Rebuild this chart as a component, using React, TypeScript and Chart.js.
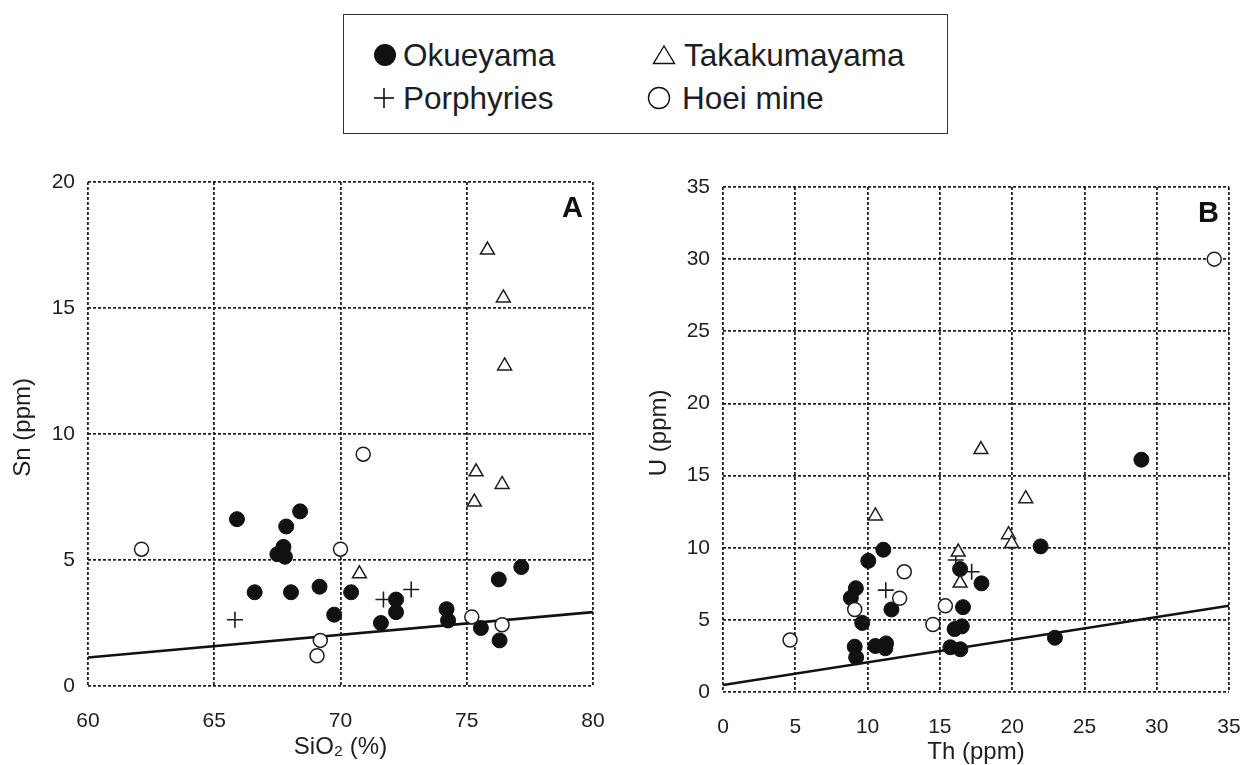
import React, { useEffect, useRef } from "react";
import { Chart, registerables } from "chart.js";

Chart.register(...registerables);

// ---------- Panel A: SiO2 (%) vs Sn (ppm) ----------
const siO2Okueyama = [65.9, 68.4, 67.85, 67.74, 67.5, 67.8, 66.6, 68.04, 69.17, 70.42, 69.75, 72.2, 72.2, 71.6, 74.2, 74.26, 75.56, 76.3, 76.27, 77.16];
const snOkueyama = [6.62, 6.93, 6.33, 5.52, 5.23, 5.13, 3.72, 3.72, 3.94, 3.72, 2.83, 3.43, 2.93, 2.5, 3.05, 2.6, 2.3, 1.81, 4.23, 4.72];
const siO2Takakumayama = [75.82, 76.45, 76.5, 75.37, 76.4, 75.3, 70.75];
const snTakakumayama = [17.3, 15.4, 12.7, 8.5, 8.0, 7.3, 4.45];
const siO2Porphyries = [65.82, 71.7, 72.8];
const snPorphyries = [2.63, 3.43, 3.83];
const siO2Hoei = [62.12, 70.9, 70.0, 75.2, 76.4, 69.2, 69.07];
const snHoei = [5.43, 9.2, 5.43, 2.74, 2.43, 1.81, 1.2];
const siO2Line = [60, 80];
const snLine = [1.13, 2.93];
const ticksA_x = [60, 65, 70, 75, 80];
const ticksA_y = [0, 5, 10, 15, 20];

// ---------- Panel B: Th (ppm) vs U (ppm) ----------
const thOkueyama = [28.94, 21.97, 11.09, 10.05, 16.4, 17.88, 9.19, 8.84, 11.65, 16.6, 9.63, 16.02, 16.52, 22.96, 9.11, 9.21, 10.54, 11.28, 11.23, 15.73, 16.42];
const uOkueyama = [16.1, 10.09, 9.86, 9.09, 8.52, 7.53, 7.19, 6.52, 5.72, 5.88, 4.79, 4.36, 4.55, 3.76, 3.14, 2.4, 3.19, 3.37, 3.03, 3.1, 2.96];
const thTakakumayama = [17.84, 20.94, 10.54, 19.75, 19.97, 16.27, 16.4];
const uTakakumayama = [16.8, 13.4, 12.2, 10.9, 10.3, 9.7, 7.55];
const thPorphyries = [16.1, 17.2, 11.26];
const uPorphyries = [9.15, 8.33, 7.06];
const thHoei = [33.98, 12.54, 12.22, 9.11, 15.38, 14.52, 4.64];
const uHoei = [30.0, 8.33, 6.5, 5.72, 5.97, 4.68, 3.6];
const thLine = [0, 35];
const uLine = [0.48, 5.98];
const ticksB_x = [0, 5, 10, 15, 20, 25, 30, 35];
const ticksB_y = [0, 5, 10, 15, 20, 25, 30, 35];

const legendLabels = ["Okueyama", "Takakumayama", "Porphyries", "Hoei mine"];

const FONT = '"Liberation Sans", Arial, Helvetica, sans-serif';
const INK = "#1e1e1e";

const zip = (xs: number[], ys: number[]) => xs.map((x, i) => ({ x, y: ys[i] }));

function makeDatasets(
  okX: number[], okY: number[],
  tkX: number[], tkY: number[],
  poX: number[], poY: number[],
  hoX: number[], hoY: number[],
  lnX: number[], lnY: number[]
) {
  return [
    {
      label: legendLabels[3],
      data: zip(hoX, hoY),
      pointStyle: "circle",
      pointRadius: 7,
      backgroundColor: "#ffffff",
      borderColor: INK,
      borderWidth: 1.5,
    },
    {
      label: legendLabels[1],
      data: zip(tkX, tkY),
      pointStyle: "triangle",
      pointRadius: 8,
      backgroundColor: "#ffffff",
      borderColor: INK,
      borderWidth: 1.5,
    },
    {
      label: legendLabels[2],
      data: zip(poX, poY),
      pointStyle: "cross",
      pointRadius: 8,
      backgroundColor: INK,
      borderColor: INK,
      borderWidth: 1.6,
    },
    {
      label: legendLabels[0],
      data: zip(okX, okY),
      pointStyle: "circle",
      pointRadius: 7.5,
      backgroundColor: "#111111",
      borderColor: "#111111",
      borderWidth: 1,
    },
    {
      label: "line",
      data: zip(lnX, lnY),
      showLine: true,
      pointRadius: 0,
      borderColor: "#111111",
      borderWidth: 2.6,
      fill: false,
      order: 10,
    },
  ];
}

const panelLabelPlugin = {
  id: "panelLabel",
  afterDraw(chart: any, _args: any, opts: any) {
    const { ctx, chartArea } = chart;
    ctx.save();
    ctx.font = `bold 29px ${FONT}`;
    ctx.fillStyle = "#111";
    ctx.textAlign = "right";
    ctx.textBaseline = "alphabetic";
    ctx.fillText(opts.text, chartArea.right - opts.dx, chartArea.top + opts.dy);
    ctx.restore();
  },
};

type PanelProps = {
  left: number;
  top: number;
  width: number;
  height: number;
  datasets: any[];
  xTicks: number[];
  yTicks: number[];
  xTitle: string;
  yTitle: string;
  yAxisWidth: number;
  xAxisHeight: number;
  padTop: number;
  padRight: number;
  yTitlePad: number;
  xTitlePad: number;
  label: string;
};

function Panel(p: PanelProps) {
  const ref = useRef<HTMLCanvasElement | null>(null);
  useEffect(() => {
    if (!ref.current) return;
    const grid = {
      display: true,
      color: "#222",
      lineWidth: 1.8,
      drawTicks: false,
      drawOnChartArea: true,
    };
    const border = { display: false, dash: [3, 2] };
    const tickFont = { family: FONT, size: 21 };
    const titleFont = { family: FONT, size: 24, lineHeight: 1 };
    const chart = new Chart(ref.current, {
      type: "scatter",
      data: { datasets: p.datasets },
      plugins: [panelLabelPlugin],
      options: {
        animation: false,
        responsive: false,
        devicePixelRatio: 1,
        layout: { padding: { top: p.padTop, right: p.padRight, left: 0, bottom: 0 } },
        plugins: {
          legend: { display: false },
          tooltip: { enabled: false },
          panelLabel: { text: p.label, dx: 10, dy: 35 },
        } as any,
        scales: {
          x: {
            type: "linear",
            min: p.xTicks[0],
            max: p.xTicks[p.xTicks.length - 1],
            afterBuildTicks: (scale: any) => {
              scale.ticks = p.xTicks.map((v) => ({ value: v }));
            },
            afterFit: (scale: any) => {
              scale.height = p.xAxisHeight;
              scale.paddingLeft = 0;
              scale.paddingRight = 0;
            },
            grid,
            border,
            ticks: { font: tickFont, color: INK, padding: 23, maxRotation: 0 },
            title: {
              display: true,
              text: p.xTitle,
              font: titleFont,
              color: INK,
              padding: { top: 0, bottom: p.xTitlePad },
            },
          },
          y: {
            type: "linear",
            min: p.yTicks[0],
            max: p.yTicks[p.yTicks.length - 1],
            afterBuildTicks: (scale: any) => {
              scale.ticks = p.yTicks.map((v) => ({ value: v }));
            },
            afterFit: (scale: any) => {
              scale.width = p.yAxisWidth;
              scale.paddingTop = 0;
              scale.paddingBottom = 0;
            },
            grid,
            border,
            ticks: { font: tickFont, color: INK, padding: 13 },
            title: {
              display: true,
              text: "  " + p.yTitle,
              font: titleFont,
              color: INK,
              padding: { top: p.yTitlePad, bottom: 0 },
            },
          },
        },
      } as any,
    });
    return () => chart.destroy();
  }, []);
  return (
    <canvas
      ref={ref}
      width={p.width}
      height={p.height}
      style={{ position: "absolute", left: p.left, top: p.top, width: p.width, height: p.height }}
    />
  );
}

function Legend() {
  const text: React.CSSProperties = {
    position: "absolute",
    fontSize: 31.5,
    lineHeight: "32px",
    fontFamily: FONT,
    color: INK,
    whiteSpace: "nowrap",
  };
  return (
    <div
      style={{
        position: "absolute",
        left: 343,
        top: 14,
        width: 605,
        height: 120,
        border: "1.5px solid #333",
        boxSizing: "border-box",
        background: "#fff",
      }}
    >
      {/* positions inside the box (box origin 343,14) */}
      <svg style={{ position: "absolute", left: 384 - 343 - 12, top: 54 - 14 - 12 }} width={24} height={24}>
        <circle cx={12} cy={12} r={11} fill="#111" />
      </svg>
      <span style={{ ...text, left: 402 - 343, top: 38 - 14 }}>{legendLabels[0]}</span>

      <svg style={{ position: "absolute", left: 663 - 343 - 12, top: 54 - 14 - 11 }} width={24} height={22}>
        <polygon points="12,2 22.5,19.5 1.5,19.5" fill="none" stroke="#111" strokeWidth={1.4} />
      </svg>
      <span style={{ ...text, left: 683 - 343, top: 38 - 14 }}>{legendLabels[1]}</span>

      <svg style={{ position: "absolute", left: 383 - 343 - 11, top: 97 - 14 - 11 }} width={22} height={22}>
        <line x1={1} y1={11} x2={21} y2={11} stroke="#111" strokeWidth={1.6} />
        <line x1={11} y1={1} x2={11} y2={21} stroke="#111" strokeWidth={1.6} />
      </svg>
      <span style={{ ...text, left: 402 - 343, top: 81 - 14 }}>{legendLabels[2]}</span>

      <svg style={{ position: "absolute", left: 658 - 343 - 12, top: 97 - 14 - 12 }} width={24} height={24}>
        <circle cx={12} cy={12} r={10.5} fill="none" stroke="#111" strokeWidth={1.4} />
      </svg>
      <span style={{ ...text, left: 681 - 343, top: 81 - 14 }}>{legendLabels[3]}</span>
    </div>
  );
}

export default function App() {
  const dsA = makeDatasets(
    siO2Okueyama, snOkueyama,
    siO2Takakumayama, snTakakumayama,
    siO2Porphyries, snPorphyries,
    siO2Hoei, snHoei,
    siO2Line, snLine
  );
  const dsB = makeDatasets(
    thOkueyama, uOkueyama,
    thTakakumayama, uTakakumayama,
    thPorphyries, uPorphyries,
    thHoei, uHoei,
    thLine, uLine
  );
  return (
    <div
      style={{
        position: "absolute",
        left: 0,
        top: 0,
        width: 1240,
        height: 765,
        background: "#fff",
        overflow: "hidden",
      }}
    >
      <Legend />
      <Panel
        left={0}
        top={150}
        width={620}
        height={615}
        datasets={dsA}
        xTicks={ticksA_x}
        yTicks={ticksA_y}
        xTitle={"SiO\u2082 (%)"}
        yTitle={"Sn (ppm)"}
        yAxisWidth={88}
        xAxisHeight={79}
        padTop={32}
        padRight={27}
        yTitlePad={11}
        xTitlePad={6}
        label="A"
      />
      <Panel
        left={620}
        top={150}
        width={620}
        height={615}
        datasets={dsB}
        xTicks={ticksB_x}
        yTicks={ticksB_y}
        xTitle={"Th (ppm)"}
        yTitle={"U (ppm)"}
        yAxisWidth={103}
        xAxisHeight={73}
        padTop={37}
        padRight={11}
        yTitlePad={27}
        xTitlePad={1}
        label="B"
      />
    </div>
  );
}
